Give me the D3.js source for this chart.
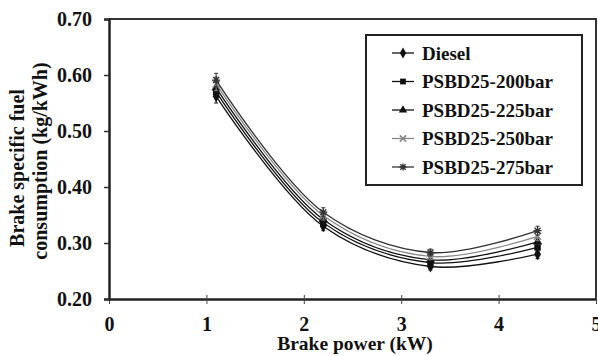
<!DOCTYPE html>
<html>
<head>
<meta charset="utf-8">
<script src="https://cdn.jsdelivr.net/npm/d3@7"></script>
<style>
  body { margin: 0; background: #fff; }
  text { font-family: "Liberation Serif", "Times New Roman", serif; font-weight: bold; fill: #111; }
</style>
</head>
<body>
<div class="chart"></div>
<script>
// data
const power = [1.1, 2.2, 3.3, 4.4];
const seriesNames = ["Diesel", "PSBD25-200bar", "PSBD25-225bar", "PSBD25-250bar", "PSBD25-275bar"];
const diesel = [0.562, 0.330, 0.258, 0.280];
const p200 = [0.570, 0.336, 0.265, 0.292];
const p225 = [0.577, 0.342, 0.270, 0.302];
const p250 = [0.584, 0.349, 0.276, 0.312];
const p275 = [0.591, 0.355, 0.283, 0.322];
const errBar = [0.012, 0.008, 0.006, 0.008];
const xTicks = [0, 1, 2, 3, 4, 5];
const yTicks = [0.20, 0.30, 0.40, 0.50, 0.60, 0.70];

const allSeries = [diesel, p200, p225, p250, p275];
const markerKind = ["diamond", "square", "triangle", "x", "star"];
const lineColor = ["#111", "#111", "#111", "#888", "#333"];

const W = 598, H = 356;
const margin = { top: 19, right: 2, bottom: 57, left: 109 };
const width = W - margin.left - margin.right,
  height = H - margin.top - margin.bottom;

const svg = d3.select(".chart").append("svg")
  .attr("width", W)
  .attr("height", H);

const g = svg.append("g")
  .attr("transform", "translate(" + margin.left + "," + margin.top + ")");

const x = d3.scaleLinear().domain([0, 5]).range([0, width]);
const y = d3.scaleLinear().domain([0.2, 0.7]).range([height, 0]);

// frame (top + right)
g.append("path")
  .attr("d", "M0,0H" + width + "V" + height)
  .attr("fill", "none")
  .attr("stroke", "#333")
  .attr("stroke-width", 2);

// axes
const xAxis = g.append("g")
  .attr("transform", "translate(0," + height + ")")
  .call(d3.axisBottom(x).tickValues(xTicks).tickFormat(d3.format("d")).tickSize(0).tickPadding(18));
xAxis.select(".domain").attr("stroke", "#222").attr("stroke-width", 2.5);
xAxis.selectAll(".tick").append("line")
  .attr("y1", -4).attr("y2", 5).attr("stroke", "#444");
xAxis.selectAll(".tick text").style("font-size", "20px").style("font-family", "Liberation Serif");

const yAxis = g.append("g")
  .call(d3.axisLeft(y).tickValues(yTicks).tickFormat(d3.format(".2f")).tickSize(5).tickPadding(12));
yAxis.select(".domain").attr("stroke", "#222").attr("stroke-width", 2.5);
yAxis.selectAll(".tick line").attr("stroke", "#333").attr("stroke-width", 1.5);
yAxis.selectAll(".tick text").style("font-size", "20px").style("font-family", "Liberation Serif");

// axis titles
svg.append("text")
  .attr("x", 355).attr("y", 350)
  .attr("text-anchor", "middle")
  .style("font-size", "19.5px")
  .text("Brake power (kW)");

const yt = svg.append("text")
  .attr("transform", "translate(24,164) rotate(-90)")
  .attr("text-anchor", "middle")
  .style("font-size", "20px");
yt.append("tspan").attr("x", -4).attr("dy", 0).text("Brake specific fuel");
yt.append("tspan").attr("x", 3).attr("dy", 23).text("consumption (kg/kWh)");

// markers
function marker(sel, kind, color, s) {
  s = s || 1;
  if (kind === "diamond") {
    sel.append("path").attr("d", d3.symbol(d3.symbolDiamond, 42 * s)).attr("fill", "#111");
  } else if (kind === "square") {
    sel.append("path").attr("d", d3.symbol(d3.symbolSquare, 42 * s)).attr("fill", "#111");
  } else if (kind === "triangle") {
    sel.append("path").attr("d", d3.symbol(d3.symbolTriangle, 38 * s)).attr("fill", "#111");
  } else if (kind === "x") {
    const r = 3.5 * Math.sqrt(s);
    sel.append("path").attr("d", "M" + -r + "," + -r + "L" + r + "," + r + "M" + -r + "," + r + "L" + r + "," + -r)
      .attr("stroke", color).attr("stroke-width", 1.6);
  } else {
    const r = 4 * Math.sqrt(s), q = 3 * Math.sqrt(s);
    sel.append("path").attr("d", "M" + -r + ",0H" + r + "M0," + -r + "V" + r +
      "M" + -q + "," + -q + "L" + q + "," + q + "M" + -q + "," + q + "L" + q + "," + -q)
      .attr("stroke", color).attr("stroke-width", 1.3);
  }
}

const line = d3.line()
  .x(d => x(d[0]))
  .y(d => y(d[1]))
  .curve(d3.curveCatmullRom.alpha(0.5));

allSeries.forEach(function (vals, si) {
  const pts = power.map((p, i) => [p, vals[i], errBar[i]]);
  const sg = g.append("g").attr("class", "series");

  sg.append("path")
    .datum(pts)
    .attr("d", line)
    .attr("fill", "none")
    .attr("stroke", lineColor[si])
    .attr("stroke-width", 1.3);

  // error bars
  sg.selectAll(".err").data(pts).enter().append("path")
    .attr("class", "err")
    .attr("d", d => "M" + x(d[0]) + "," + y(d[1] - d[2]) + "V" + y(d[1] + d[2]) +
      "M" + (x(d[0]) - 2) + "," + y(d[1] + d[2]) + "h4" +
      "M" + (x(d[0]) - 2) + "," + y(d[1] - d[2]) + "h4")
    .attr("stroke", lineColor[si])
    .attr("stroke-width", 1);

  sg.selectAll(".pt").data(pts).enter().append("g")
    .attr("class", "pt")
    .attr("transform", d => "translate(" + x(d[0]) + "," + y(d[1]) + ")")
    .each(function () { marker(d3.select(this), markerKind[si], lineColor[si]); });
});

// legend
const legend = svg.append("g").attr("transform", "translate(366,35)");
legend.append("rect")
  .attr("width", 216).attr("height", 150)
  .attr("fill", "#fff")
  .attr("stroke", "#222")
  .attr("stroke-width", 2);

seriesNames.forEach(function (name, i) {
  const row = legend.append("g").attr("transform", "translate(0," + (18 + i * 28.5) + ")");
  row.append("line")
    .attr("x1", 26).attr("x2", 48)
    .attr("stroke", lineColor[i]).attr("stroke-width", 1.3);
  const m = row.append("g").attr("transform", "translate(37,0)");
  marker(m, markerKind[i], lineColor[i], 0.8);
  row.append("text")
    .attr("x", 56).attr("y", 6.5)
    .style("font-size", "19px")
    .text(name);
});
</script>
</body>
</html>
